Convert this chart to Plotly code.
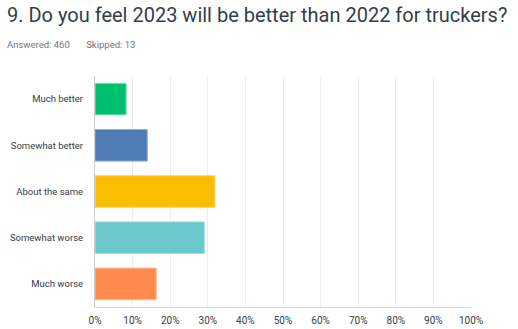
import plotly.graph_objects as go

categories = ["Much better", "Somewhat better", "About the same", "Somewhat worse", "Much worse"]
values = [8.3, 13.9, 31.9, 29.1, 16.3]
colors = ["#00bf6f", "#507cb6", "#f9be00", "#6bc8cd", "#ff8b4f"]
line_colors = ["#8ee0bd", "#93acd2", "#fbd66a", "#a6dee1", "#ffb994"]
tick_vals = [0, 10, 20, 30, 40, 50, 60, 70, 80, 90, 100]
tick_text = [f"{v}%" for v in tick_vals]

L, R, T, B = 95, 47, 76, 22
W, H = 518, 329
pw, ph = W - L - R, H - T - B

fig = go.Figure(go.Bar(
    y=categories, x=values, orientation="h",
    marker=dict(color=colors, line=dict(color=line_colors, width=1)),
    width=0.685,
))

fig.update_layout(
    width=W, height=H,
    margin=dict(l=L, r=R, t=T, b=B, pad=0, autoexpand=False),
    paper_bgcolor="white", plot_bgcolor="white",
    font=dict(family="Roboto, sans-serif", color="#333e48", size=10),
    showlegend=False,
    xaxis=dict(range=[0, 100], tickvals=tick_vals, ticktext=tick_text,
               showgrid=True, gridcolor="#ededed", gridwidth=1,
               zeroline=False, showline=True, linecolor="#d9d9d9",
               ticklabelstandoff=4,
               tickfont=dict(size=10, color="#333e48"), ticks="", automargin=False),
    yaxis=dict(autorange="reversed", showgrid=False, zeroline=False,
               showline=True, linecolor="#cccccc", ticks="", ticklabelstandoff=9,
               automargin=False,
               tickfont=dict(size=9.5, color="#333e48")),
)
fig.add_annotation(text="9. Do you feel 2023 will be better than 2022 for truckers?",
                   xref="paper", yref="paper", x=(5 - L) / pw, y=1 + (T - 15) / ph,
                   xanchor="left", yanchor="middle", showarrow=False,
                   font=dict(size=20, color="#333e48"))
fig.add_annotation(text="Answered: 460&nbsp;&nbsp;&nbsp;&nbsp;&nbsp;&nbsp;&nbsp;Skipped: 13",
                   xref="paper", yref="paper", x=(5 - L) / pw, y=1 + (T - 44) / ph,
                   xanchor="left", yanchor="middle", showarrow=False,
                   font=dict(size=9.5, color="#6b787f"))

fig.write_html("out.html")
